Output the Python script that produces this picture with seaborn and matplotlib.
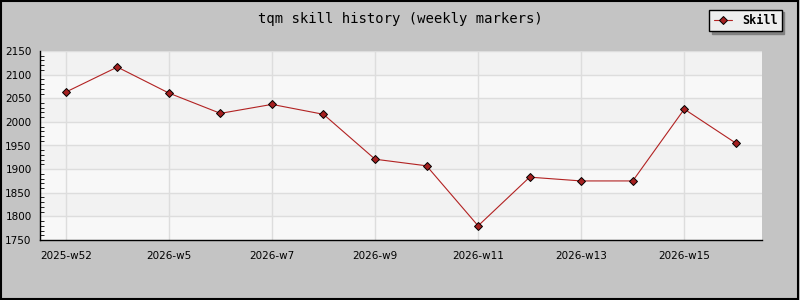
import matplotlib
matplotlib.use("Agg")
import matplotlib.pyplot as plt
import seaborn as sns
import pandas as pd
from matplotlib.patches import Rectangle

weeks = ["2025-w52", "2026-w4", "2026-w5", "2026-w6", "2026-w7", "2026-w8", "2026-w9",
         "2026-w10", "2026-w11", "2026-w12", "2026-w13", "2026-w14", "2026-w15", "2026-w16"]
skill = [2063, 2116, 2061, 2018, 2037, 2016, 1921, 1907, 1780, 1883, 1875, 1875, 2027, 1955]
shown_labels = ["2025-w52", "2026-w5", "2026-w7", "2026-w9", "2026-w11", "2026-w13", "2026-w15"]
y_ticks = [1750, 1800, 1850, 1900, 1950, 2000, 2050, 2100, 2150]

df = pd.DataFrame({"idx": range(len(weeks)), "week": weeks, "Skill": skill})

sns.set_style("white")
plt.rcParams["font.family"] = ["DejaVu Sans"]
plt.rcParams["text.color"] = "black"
plt.rcParams["xtick.color"] = "black"
plt.rcParams["ytick.color"] = "black"

fig = plt.figure(figsize=(8, 3), dpi=100, facecolor="#c4c4c4")
ax = fig.add_axes([0.05, 0.2, 0.902, 0.63])
ax.set_facecolor("#f8f8f8")

# alternating bands
for i in range(len(y_ticks) - 1):
    if i % 2 == 1:
        ax.axhspan(y_ticks[i], y_ticks[i + 1], color="#f2f2f2", zorder=0, lw=0)
for yv in y_ticks[1:]:
    ax.axhline(yv, color="#dddddd", lw=1, zorder=0.5)

tick_pos = [weeks.index(l) for l in shown_labels]
for xv in tick_pos:
    ax.axvline(xv, color="#dddddd", lw=1, zorder=0.5)

sns.lineplot(data=df, x="idx", y="Skill", ax=ax, color="#b22222", lw=0.8,
             marker="D", markersize=4.5, markerfacecolor="#a52020",
             markeredgecolor="black", markeredgewidth=0.7, label="Skill", legend=False, zorder=3)

ax.set_xlim(-0.5, len(weeks) - 0.5)
ax.set_ylim(1750, 2150)
ax.set_xticks(tick_pos)
ax.set_xticklabels(shown_labels, fontsize=7.5, color="black")
ax.set_yticks(y_ticks)
ax.set_yticklabels([str(v) for v in y_ticks], fontsize=7.5, color="black")
ax.set_yticks(range(1750, 2151, 10), minor=True)
ax.tick_params(axis="both", direction="in", length=5, width=0.8, color="black", pad=6)
ax.tick_params(axis="y", which="minor", direction="in", length=3, width=0.6, left=True)
ax.tick_params(axis="x", pad=8)
ax.set_xlabel("")
ax.set_ylabel("")
for s in ["top", "right"]:
    ax.spines[s].set_visible(False)
for s in ["left", "bottom"]:
    ax.spines[s].set_color("black")
    ax.spines[s].set_linewidth(1)

fig.text(0.5, 0.935, "tqm skill history (weekly markers)", ha="center", va="center",
         fontsize=10, family="DejaVu Sans Mono", color="black")

leg = ax.legend(loc="upper right", bbox_to_anchor=(0.977, 0.968), bbox_transform=fig.transFigure,
                borderaxespad=0, frameon=True, fancybox=False, shadow={"ox": 2, "oy": -2, "color": "#808080", "alpha": 1},
                handlelength=1.6, handletextpad=0.8, borderpad=0.35,
                prop={"family": "DejaVu Sans Mono", "weight": "bold", "size": 8.5})
leg.get_frame().set_edgecolor("black")
leg.get_frame().set_facecolor("#eeeeee")
leg.get_frame().set_linewidth(1)
for t in leg.get_texts():
    t.set_color("black")

fig.patches.append(Rectangle((0.001, 0.002), 0.997, 0.995, transform=fig.transFigure,
                             fill=False, edgecolor="black", lw=1.5))

fig.savefig("out.png", dpi=100, facecolor=fig.get_facecolor())
